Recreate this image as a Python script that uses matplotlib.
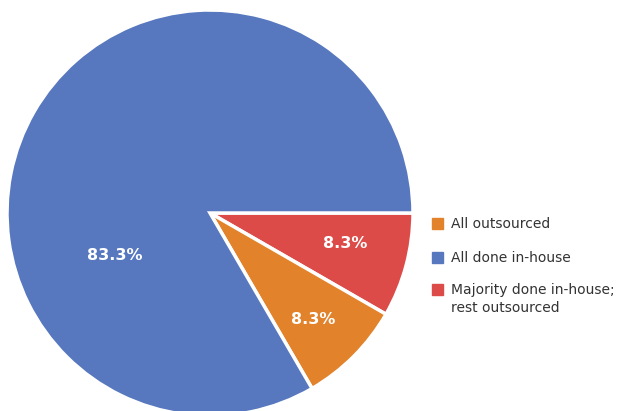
import matplotlib.pyplot as plt
import matplotlib.patches as mpatches

# Slice data, drawn clockwise from 3 o'clock
slice_names = ['Majority done in-house;\nrest outsourced', 'All outsourced', 'All done in-house']
slice_values = [8.3, 8.3, 83.3]
slice_colors = ['#DD4B48', '#E2822A', '#5778BE']

# Legend order
legend_names = ['All outsourced', 'All done in-house', 'Majority done in-house;\nrest outsourced']
legend_colors = ['#E2822A', '#5778BE', '#DD4B48']

# Label positions inside the pie (axes data units, radius = 1)
label_pos = [(0.665, -0.148), (0.507, -0.527), (-0.468, -0.207)]

W, H = 624, 411
fig = plt.figure(figsize=(W / 100, H / 100), dpi=100)
ax = fig.add_axes([7 / W, -5 / H, 406 / W, 406 / H])

ax.pie(slice_values, colors=slice_colors, startangle=0, counterclock=False,
       radius=1, wedgeprops=dict(edgecolor='white', linewidth=2.5))
ax.set_xlim(-1, 1)
ax.set_ylim(-1, 1)
ax.set_aspect('equal')
ax.axis('off')

for v, (x, y) in zip(slice_values, label_pos):
    ax.text(x, y, f'{v}%', ha='center', va='center', color='white',
            fontsize=11.5, fontweight='bold')

# legend drawn by hand so the swatch lines up with the first text line
row_y = [223, 257, 289]
box = 11
for name, color, y in zip(legend_names, legend_colors, row_y):
    fig.patches.append(mpatches.Rectangle((432 / W, 1 - (y + box / 2) / H), box / W, box / H,
                                          color=color, transform=fig.transFigure))
    for i, line in enumerate(name.split('\n')):
        fig.text(451 / W, 1 - (y - 1 + i * 19) / H, line, ha='left', va='center_baseline',
                 fontsize=10, color='#333333')

plt.savefig('out.png', dpi=100)
